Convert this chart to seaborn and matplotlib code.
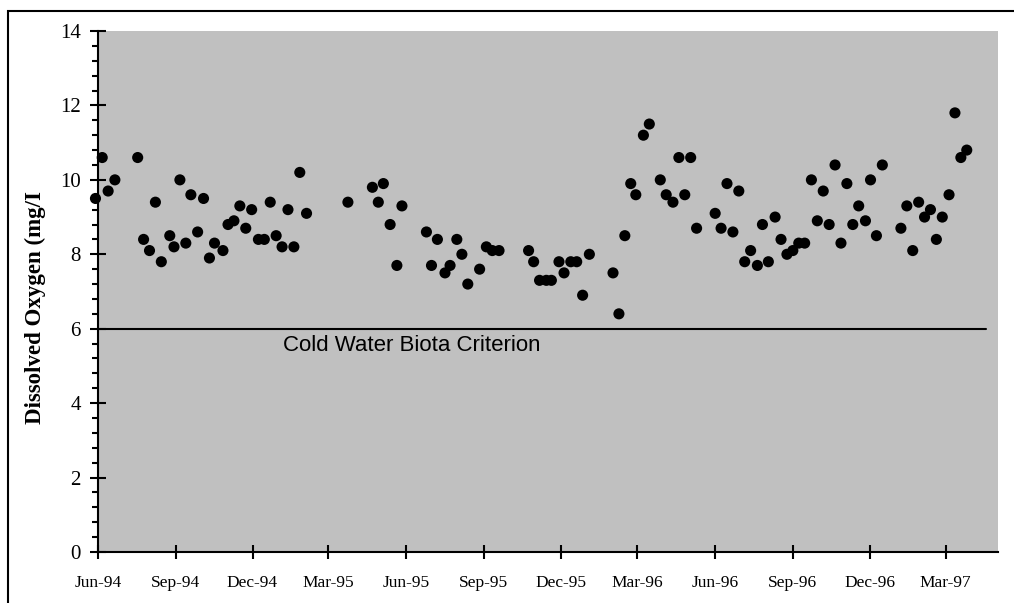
import matplotlib
matplotlib.use("Agg")
import matplotlib.pyplot as plt
import matplotlib.dates as mdates
import matplotlib.patches as mpatches
from matplotlib.ticker import MultipleLocator
import pandas as pd
import seaborn as sns

# Weekly dissolved oxygen samples (mg/l)
sample_dates = [
    "1994-05-29", "1994-06-06", "1994-06-13", "1994-06-21", "1994-07-18", "1994-07-25",
    "1994-08-01", "1994-08-08", "1994-08-15", "1994-08-25", "1994-08-30", "1994-09-06",
    "1994-09-13", "1994-09-19", "1994-09-27", "1994-10-04", "1994-10-11", "1994-10-17",
    "1994-10-27", "1994-11-02", "1994-11-09", "1994-11-16", "1994-11-23", "1994-11-30",
    "1994-12-08", "1994-12-15", "1994-12-22", "1994-12-29", "1995-01-05", "1995-01-12",
    "1995-01-19", "1995-01-26", "1995-02-03",
    "1995-03-24", "1995-04-22", "1995-04-29", "1995-05-05", "1995-05-13", "1995-05-21",
    "1995-05-27", "1995-06-25", "1995-07-01", "1995-07-08", "1995-07-17", "1995-07-23",
    "1995-07-31", "1995-08-06", "1995-08-13", "1995-08-27", "1995-09-04", "1995-09-11",
    "1995-09-19", "1995-10-24", "1995-10-30", "1995-11-06", "1995-11-14", "1995-11-20",
    "1995-11-29", "1995-12-05", "1995-12-13", "1995-12-20", "1995-12-27", "1996-01-04",
    "1996-02-01", "1996-02-08", "1996-02-15", "1996-02-22", "1996-02-28", "1996-03-08",
    "1996-03-15", "1996-03-28", "1996-04-04", "1996-04-12", "1996-04-19", "1996-04-26",
    "1996-05-03", "1996-05-10", "1996-06-01", "1996-06-08", "1996-06-15", "1996-06-22",
    "1996-06-29", "1996-07-06", "1996-07-13", "1996-07-21", "1996-07-27", "1996-08-03",
    "1996-08-11", "1996-08-18", "1996-08-25", "1996-09-01", "1996-09-08", "1996-09-15",
    "1996-09-23", "1996-09-30", "1996-10-07", "1996-10-14", "1996-10-21", "1996-10-28",
    "1996-11-04", "1996-11-11", "1996-11-18", "1996-11-26", "1996-12-02", "1996-12-09",
    "1996-12-16", "1997-01-07", "1997-01-14", "1997-01-21", "1997-01-28", "1997-02-04",
    "1997-02-11", "1997-02-18", "1997-02-25", "1997-03-05", "1997-03-12", "1997-03-19",
    "1997-03-26",
]
do_values = [
    9.5, 10.6, 9.7, 10.0, 10.6, 8.4,
    8.1, 9.4, 7.8, 8.5, 8.2, 10.0,
    8.3, 9.6, 8.6, 9.5, 7.9, 8.3,
    8.1, 8.8, 8.9, 9.3, 8.7, 9.2,
    8.4, 8.4, 9.4, 8.5, 8.2, 9.2,
    8.2, 10.2, 9.1,
    9.4, 9.8, 9.4, 9.9, 8.8, 7.7,
    9.3, 8.6, 7.7, 8.4, 7.5, 7.7,
    8.4, 8.0, 7.2, 7.6, 8.2, 8.1,
    8.1, 8.1, 7.8, 7.3, 7.3, 7.3,
    7.8, 7.5, 7.8, 7.8, 6.9, 8.0,
    7.5, 6.4, 8.5, 9.9, 9.6, 11.2,
    11.5, 10.0, 9.6, 9.4, 10.6, 9.6,
    10.6, 8.7, 9.1, 8.7, 9.9, 8.6,
    9.7, 7.8, 8.1, 7.7, 8.8, 7.8,
    9.0, 8.4, 8.0, 8.1, 8.3, 8.3,
    10.0, 8.9, 9.7, 8.8, 10.4, 8.3,
    9.9, 8.8, 9.3, 8.9, 10.0, 8.5,
    10.4, 8.7, 9.3, 8.1, 9.4, 9.0,
    9.2, 8.4, 9.0, 9.6, 11.8, 10.6,
    10.8,
]

# Cold water biota criterion (mg/l) over the monitoring period
criterion_dates = ["1994-06-01", "1997-04-18"]
criterion_values = [6.0, 6.0]
criterion_label = "Cold Water Biota Criterion"

x_limits = ["1994-06-01", "1997-05-02"]
y_ticks = [0, 2, 4, 6, 8, 10, 12, 14]
y_title = "Dissolved Oxygen (mg/I"

samples = pd.DataFrame({"date": pd.to_datetime(sample_dates), "do": do_values})
criterion = pd.DataFrame({"date": pd.to_datetime(criterion_dates), "do": criterion_values})

sns.set_theme(style="white")
plt.rcParams["font.family"] = ["Liberation Serif", "DejaVu Serif"]

fig = plt.figure(figsize=(10.14, 6.03), dpi=100)
ax = fig.add_axes([98 / 1014, 51 / 603, 900 / 1014, 521 / 603])
ax.set_facecolor("#c0c0c0")

sns.lineplot(data=criterion, x="date", y="do", ax=ax, color="black", linewidth=1.5)
sns.scatterplot(data=samples, x="date", y="do", ax=ax, color="black", s=64,
                marker="o", edgecolor="none", linewidth=0, clip_on=False, zorder=3)

ax.text(pd.Timestamp("1995-01-06"), 5.55, criterion_label,
        fontsize=16, family=["Liberation Sans", "DejaVu Sans"], color="black",
        ha="left", va="center")

ax.set_xlim(pd.Timestamp(x_limits[0]), pd.Timestamp(x_limits[1]))
ax.set_ylim(y_ticks[0], y_ticks[-1])
ax.set_yticks(y_ticks)
ax.yaxis.set_minor_locator(MultipleLocator(0.4))

ax.xaxis.set_major_locator(mdates.MonthLocator(bymonth=[3, 6, 9, 12], bymonthday=1))
ax.xaxis.set_major_formatter(mdates.DateFormatter("%b-%y"))

for side in ("top", "right"):
    ax.spines[side].set_visible(False)
for side in ("left", "bottom"):
    ax.spines[side].set_color("black")
    ax.spines[side].set_linewidth(1.5)

ax.tick_params(axis="y", which="major", direction="inout", length=11, width=1.5,
               labelsize=15, pad=7, colors="black", left=True)
ax.tick_params(axis="y", which="minor", direction="out", length=4, width=1.5,
               colors="black", left=True)
ax.tick_params(axis="x", which="major", direction="inout", length=9.5, width=1.5,
               labelsize=12.5, pad=12, colors="black", bottom=True)
ax.set_xlabel("")
ax.set_ylabel("")

fig.text(35 / 1014, (603 - 308) / 603, y_title, rotation=90, ha="center", va="center",
         fontsize=16.5, fontweight="bold", color="black")

# Outer frame around the chart area
frame = mpatches.Rectangle((8.3 / 1014, -0.2), 1.2, (603 - 10.7) / 603 + 0.2,
                           transform=fig.transFigure, fill=False, edgecolor="black",
                           linewidth=1.5, clip_on=False)
fig.patches.append(frame)

fig.savefig("out.png", dpi=100, facecolor="white")
